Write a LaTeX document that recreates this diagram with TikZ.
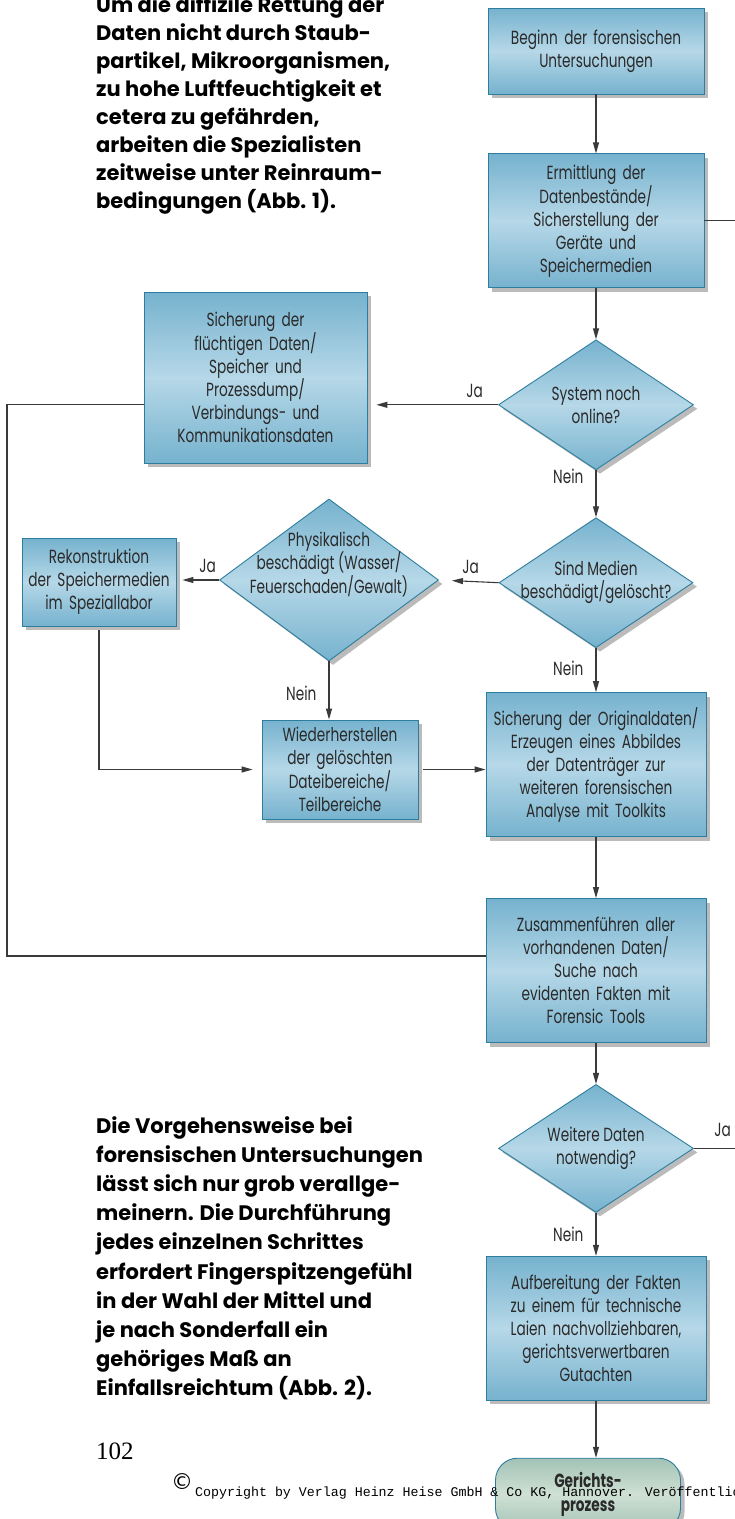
\documentclass[tikz,border=0pt]{standalone}
\usepackage{fontspec}
\setmainfont{Poppins}
\newfontfamily\boxfont[FakeStretch=0.72]{Poppins}
\newfontfamily\parafont{Poppins}
\newfontfamily\monofont{Liberation Mono}
\newfontfamily\numfont{Liberation Serif}
\newfontfamily\symfont{DejaVu Sans}
\usetikzlibrary{shapes.geometric, arrows.meta, positioning, shadows}

\definecolor{boxdark}{HTML}{76B2CE}
\definecolor{boxlight}{HTML}{B6D8E8}
\definecolor{boxedge}{HTML}{2D7E9E}
\definecolor{termdark}{HTML}{A3C2B6}
\definecolor{termlight}{HTML}{CFE1D4}
\definecolor{shadowgray}{HTML}{BBBBBB}
\definecolor{ink}{HTML}{2A2A2A}
\definecolor{linegray}{HTML}{3A3A3A}

\begin{document}
\begin{tikzpicture}[x=1pt, y=-1pt,
        box/.style={rectangle, draw=boxedge, line width=0.9pt, top color=boxdark, bottom color=boxdark, middle color=boxlight,
            drop shadow={shadow xshift=4pt, shadow yshift=-4pt, fill=shadowgray, opacity=1},
            minimum width=216pt, text width=214pt, align=center, inner sep=0pt, text=ink,
            font=\boxfont\fontsize{19}{23}\selectfont},
        decision/.style={diamond, draw=boxedge, line width=0.9pt, top color=boxdark, bottom color=boxdark, middle color=boxlight,
            drop shadow={shadow xshift=4pt, shadow yshift=-4pt, fill=shadowgray, opacity=1},
            minimum width=195pt, minimum height=130pt, inner sep=-40pt, align=center, text=ink,
            font=\boxfont\fontsize{19}{23}\selectfont},
        terminal/.style={rectangle, rounded corners=22pt, draw=boxedge, line width=0.9pt, top color=termdark, bottom color=termdark, middle color=termlight,
            drop shadow={shadow xshift=4pt, shadow yshift=-4pt, fill=shadowgray, opacity=1},
            minimum width=185pt, minimum height=72pt, align=center, inner sep=0pt, text=ink,
            font=\boxfont\bfseries\fontsize{19}{24}\selectfont},
        lbl/.style={inner sep=0pt, text=ink, font=\boxfont\fontsize{19}{20}\selectfont},
        para/.style={inner sep=0pt, align=left, text=black, font=\parafont\bfseries\fontsize{21}{28}\selectfont},
        arrow/.style={-{Triangle[length=11pt, width=6pt]}, line width=1.1pt, draw=linegray},
        line/.style={-, line width=1.1pt, draw=linegray}
    ]
        \useasboundingbox (0,0) rectangle (735,1519);

        % Text columns
        \node[para, anchor=north west] (textoben) at (96,-5) {Um die diffizile Rettung der\\Daten nicht durch Staub-\\partikel, Mikroorganismen,\\zu hohe Luftfeuchtigkeit et\\cetera zu gefährden,\\arbeiten die Spezialisten\\zeitweise unter Reinraum-\\bedingungen (Abb. 1).};
        \node[para, anchor=north west, font=\parafont\bfseries\fontsize{21}{29.2}\selectfont] (textunten) at (96,1116) {Die Vorgehensweise bei\\forensischen Untersuchungen\\lässt sich nur grob verallge-\\meinern. Die Durchführung\\jedes einzelnen Schrittes\\erfordert Fingerspitzengefühl\\in der Wahl der Mittel und\\je nach Sonderfall ein\\gehöriges Maß an\\Einfallsreichtum (Abb. 2).};

        % Main column
        \node[box, minimum height=86pt] (beginn) at (596,51) {Beginn der forensischen\\Untersuchungen};
        \node[box, minimum height=134pt, below=59pt of beginn] (ermittlung) {Ermittlung der\\Datenbestände/\\Sicherstellung der\\Geräte und\\Speichermedien};
        \node[decision, below=51pt of ermittlung] (online) {System noch\\online?};
        \node[decision, minimum width=194pt, below=47pt of online] (medien) {Sind Medien\\beschädigt/gelöscht?};
        \node[box, minimum width=220pt, minimum height=144pt, below=44pt of medien] (original) {Sicherung der Originaldaten/\\Erzeugen eines Abbildes\\der Datenträger zur\\weiteren forensischen\\Analyse mit Toolkits};
        \node[box, minimum width=220pt, minimum height=144pt, below=61pt of original] (zusammen) {Zusammenführen aller\\vorhandenen Daten/\\Suche nach\\evidenten Fakten mit\\Forensic Tools};
        \node[decision, minimum height=128pt, below=41pt of zusammen] (weitere) {Weitere Daten\\notwendig?};
        \node[box, minimum width=220pt, minimum height=144pt, below=43pt of weitere] (aufbereitung) {Aufbereitung der Fakten\\zu einem für technische\\Laien nachvollziehbaren,\\gerichtsverwertbaren\\Gutachten};
        \node[terminal, below=57pt of aufbereitung, xshift=-8pt] (prozess) {Gerichts-\\prozess};

        % Side branch
        \node[box, minimum width=223pt, text width=219pt, minimum height=171pt] (fluechtig) at (255.5,377.5) {Sicherung der\\flüchtigen Daten/\\Speicher und\\Prozessdump/\\Verbindungs- und\\Kommunikationsdaten};
        \node[decision, minimum width=219pt, minimum height=162pt] (physik) at (329,580) {Physikalisch\\beschädigt (Wasser/\\Feuerschaden/Gewalt)\\[12pt]};
        \node[box, minimum width=154pt, text width=152pt, minimum height=88pt] (rekon) at (99,582) {Rekonstruktion\\der Speichermedien\\im Speziallabor};
        \node[box, minimum width=156pt, text width=152pt, minimum height=99pt] (wieder) at (340,769.5) {Wiederherstellen\\der gelöschten\\Dateibereiche/\\Teilbereiche};

        \coordinate (rand) at (735,0);
        \coordinate (schleife) at (7,956);

        \draw[arrow] (beginn) -- (ermittlung);
        \draw[line] (ermittlung.east) -- (ermittlung.east -| rand);
        \draw[arrow] (ermittlung) -- (online);
        \draw[arrow, shorten >=9pt] (online.west) -- node[lbl, pos=0.18, above=7pt] {Ja} (online.west -| fluechtig.east);
        \draw[arrow] (online) -- node[lbl, pos=0.12, left=12pt] {Nein} (medien);
        \draw[arrow, shorten >=13pt] (medien.west) -- node[lbl, pos=0.47, above=7pt] {Ja} (physik.east);
        \draw[arrow] (medien) -- node[lbl, pos=0.45, left=12pt] {Nein} (original);
        \draw[arrow, shorten >=6pt] (physik.west) -- node[lbl, pos=0.27, above=7pt] {Ja} (physik.west -| rekon.east);
        \draw[arrow] (physik.south) -- node[lbl, pos=0.55, left=12pt] {Nein} (physik.south |- wieder.north);
        \draw[arrow, shorten <=4pt, shorten >=9pt] (rekon.south) |- (wieder.west);
        \draw[arrow, shorten <=5pt] (wieder.east) -- (wieder.east -| original.west);
        \draw[arrow] (original) -- (zusammen);
        \draw[line] (online.west -| fluechtig.west) -| (schleife) -- (schleife -| zusammen.west);
        \draw[arrow] (zusammen) -- (weitere);
        \draw[line] (weitere.east) -- node[lbl, pos=0.7, above=11pt] {Ja} (weitere.east -| rand);
        \draw[arrow] (weitere) -- node[lbl, pos=0.5, left=12pt] {Nein} (aufbereitung);
        \draw[arrow] (aufbereitung.south) -- (aufbereitung.south |- prozess.north);

        % Footer
        \node[anchor=base west, inner sep=0pt, font=\numfont\fontsize{25}{25}\selectfont] (seite) at (96,1459) {102};
        \node[inner sep=0pt, font=\symfont\fontsize{22}{22}\selectfont] (copyzeichen) at (182,1482) {©};
        \node[anchor=base west, inner sep=0pt, font=\monofont\fontsize{13.3}{13.3}\selectfont] (copyright) at (195,1496) {Copyright by Verlag Heinz Heise GmbH \& Co KG, Hannover. Veröffentlic};

    \end{tikzpicture}
\end{document}
